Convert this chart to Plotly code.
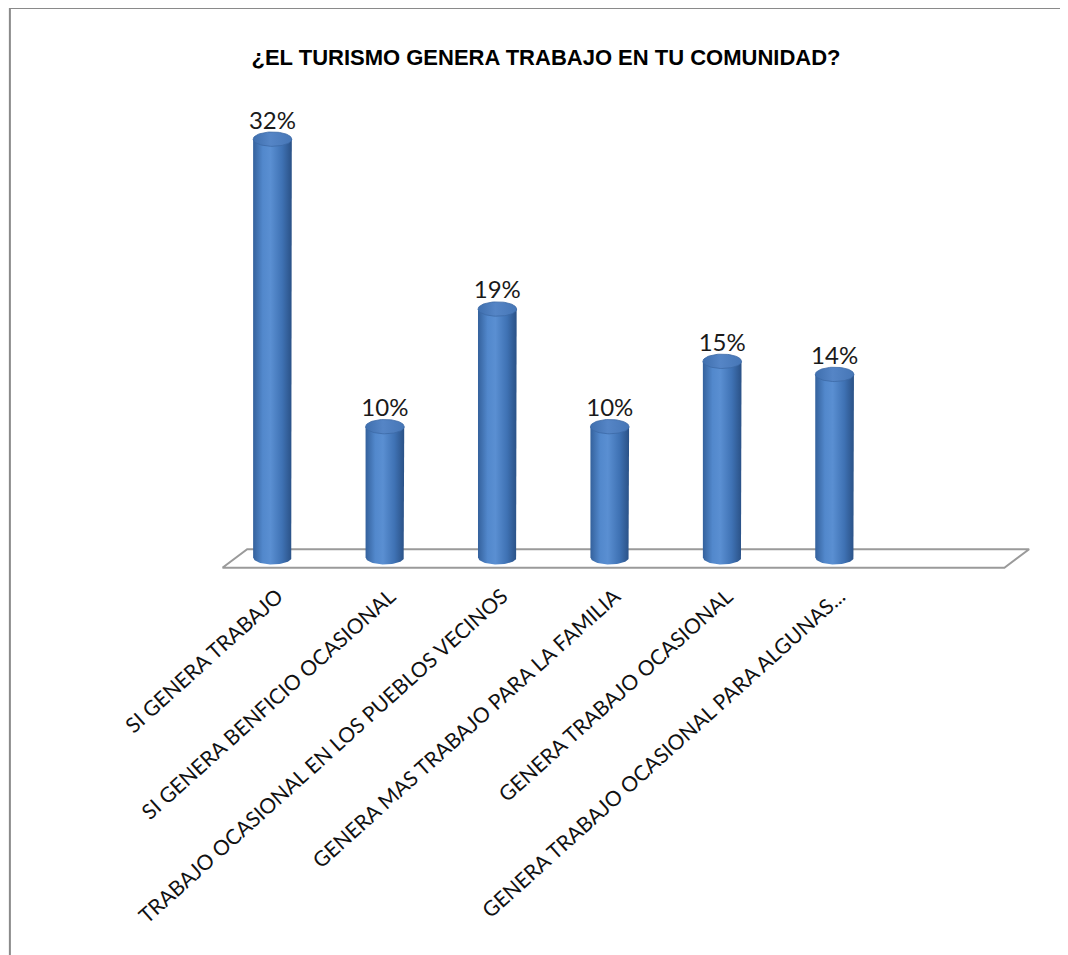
import numpy as np
import plotly.graph_objects as go

categories = [
    "SI GENERA TRABAJO",
    "SI GENERA BENFICIO OCASIONAL",
    "TRABAJO OCASIONAL EN LOS PUEBLOS VECINOS",
    "GENERA MAS TRABAJO PARA LA FAMILIA",
    "GENERA TRABAJO OCASIONAL",
    "GENERA TRABAJO OCASIONAL PARA ALGUNAS...",
]
values = [32, 10, 19, 10, 15, 14]
value_labels = ["32%", "10%", "19%", "10%", "15%", "14%"]
title_text = "¿EL TURISMO GENERA TRABAJO EN TU COMUNIDAD?"

W, H = 1068, 955
# plot area geometry (pixels, figure coordinates)
x0_px, unit_x = 264.5, 112.4
y0_px, unit_y = 549.0, 13.05
xr = [-0.6, 6.8]
yr = [-1.2, 34.0]
L = x0_px + xr[0] * unit_x
R = x0_px + xr[1] * unit_x
T = y0_px - yr[1] * unit_y
B = y0_px - yr[0] * unit_y

fig = go.Figure()

# floor (one extra empty slot at the right, as in the original)
n_slots = len(categories) + 1
depth_dx, y_front, y_back = 0.22, -0.8, 0.62
fl = -0.445
fr = fl + n_slots - 0.045
fig.add_trace(go.Scatter(
    x=[fl, fl + depth_dx, fr + depth_dx, fr, fl],
    y=[y_front, y_back, y_back, y_front, y_front],
    mode="lines", fill="toself", fillcolor="white",
    line=dict(color="#9a9a9a", width=2), hoverinfo="skip", showlegend=False))

w = 0.172  # half width of cylinder in category units
h = 0.55   # half height of ellipse in value units
t_bot = np.linspace(0, np.pi, 40)
t_full = np.linspace(0, 2 * np.pi, 80)
body_scale = [[0, "#34619c"], [0.25, "#5288cc"], [0.45, "#5a8fd2"], [0.75, "#3f72b4"], [1, "#2a5186"]]
cap_scale = [[0, "#3f6fae"], [0.45, "#5585c6"], [1, "#4676b6"]]

for i, v in enumerate(values):
    bx = [i - w, i - w, i + w, i + w] + list(i + w * np.cos(t_bot))
    by = [0, v, v, 0] + list(-h * np.sin(t_bot))
    fig.add_trace(go.Scatter(
        x=bx, y=by, mode="lines", fill="toself",
        fillgradient=dict(type="horizontal", colorscale=body_scale, start=i - w, stop=i + w),
        line=dict(width=0), hoverinfo="skip", showlegend=False))
    fig.add_trace(go.Scatter(
        x=list(i + w * np.cos(t_full)), y=list(v + h * np.sin(t_full)),
        mode="lines", fill="toself",
        fillgradient=dict(type="horizontal", colorscale=cap_scale, start=i - w, stop=i + w),
        line=dict(color="#3c6aa6", width=0.8), hoverinfo="skip", showlegend=False))

# value labels
fig.add_trace(go.Scatter(
    x=list(range(len(values))), y=[v + h - 0.2 for v in values],
    mode="text", text=value_labels, textposition="top center",
    textfont=dict(family="Lato, Open Sans, sans-serif", size=24, color="#1a1a1a"),
    hoverinfo="skip", showlegend=False, cliponaxis=False))

fig.update_layout(
    width=W, height=H,
    margin=dict(l=L, r=W - R, t=T, b=H - B, autoexpand=False),
    paper_bgcolor="white", plot_bgcolor="white",
    showlegend=False,
    title=dict(text="<b>" + title_text + "</b>", x=538 / W, xanchor="center",
               y=1 - 49 / H, yanchor="middle", yref="container",
               font=dict(family="Liberation Sans, Arial, sans-serif",
                         size=22, color="#000000")),
    xaxis=dict(range=xr, tickvals=list(range(len(categories))), ticktext=categories,
               tickangle=-42, showgrid=False, zeroline=False, showline=False,
               ticks="outside", ticklen=2, tickcolor="rgba(0,0,0,0)", automargin=False,
               ticklabelshift=5,
               tickfont=dict(family="Lato, Open Sans, sans-serif", size=21, color="#111111")),
    yaxis=dict(range=yr, visible=False, showgrid=False, zeroline=False),
)

# outer chart border
fig.add_shape(type="rect", xref="paper", yref="paper",
              x0=(2 - L) / (R - L), x1=(W + 20 - L) / (R - L),
              y0=(B - (H + 20)) / (B - T), y1=(B - 0.5) / (B - T),
              line=dict(color="#8a8a8a", width=2), fillcolor="rgba(0,0,0,0)", layer="below")

fig.write_html("out.html")
